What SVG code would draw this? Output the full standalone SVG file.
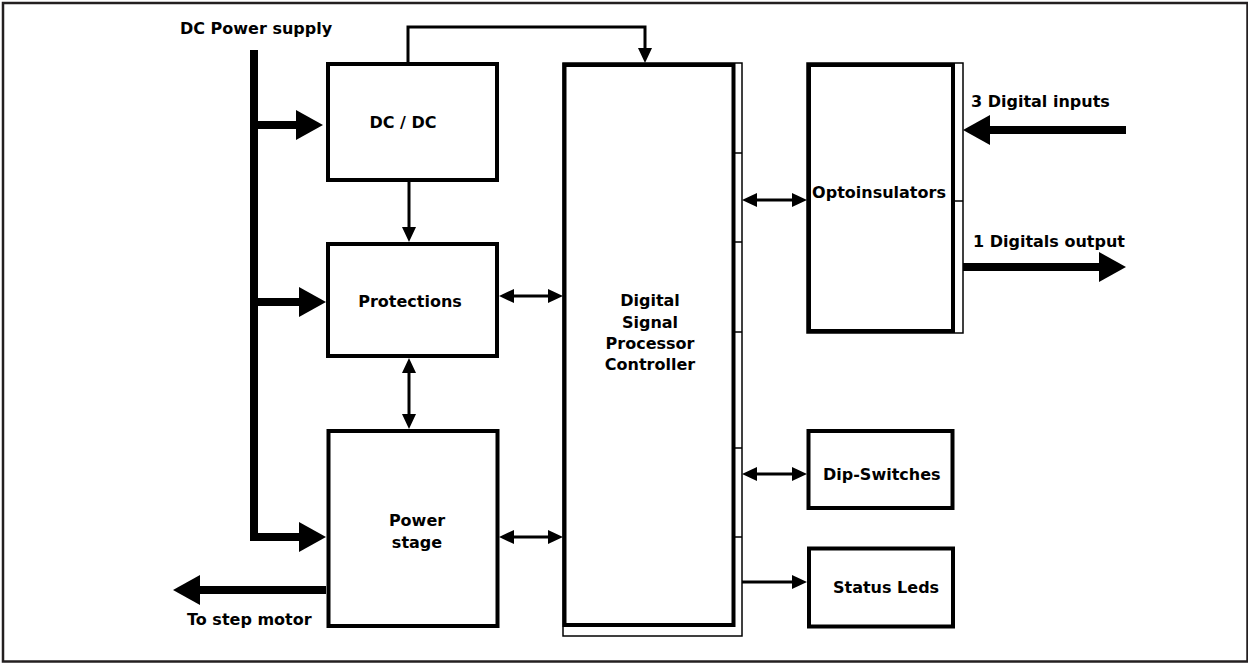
<svg xmlns="http://www.w3.org/2000/svg" width="1248" height="663" viewBox="0 0 1248 663">
<style>
.box{fill:#fff;stroke:#000;stroke-width:4}
.strip{fill:#fff;stroke:#000;stroke-width:1.5}
.tick{stroke:#000;stroke-width:1.5}
.thin{fill:none;stroke:#000;stroke-width:3}
.thick{fill:none;stroke:#000;stroke-width:8;stroke-linejoin:miter}
text{font-family:"DejaVu Sans","Verdana",sans-serif;font-weight:bold;font-size:16px;fill:#000}
.m{text-anchor:middle}
</style>
<defs>
<marker id="ah" markerUnits="userSpaceOnUse" markerWidth="16" markerHeight="16" viewBox="0 -8 16 16" refX="0" refY="0" orient="auto-start-reverse">
<path d="M0,-7 L15,0 L0,7 z" fill="#000"/>
</marker>
<marker id="big" markerUnits="userSpaceOnUse" markerWidth="28" markerHeight="32" viewBox="0 -16 28 32" refX="0" refY="0" orient="auto-start-reverse">
<path d="M0,-15 L27,0 L0,15 z" fill="#000"/>
</marker>
</defs>
<rect x="3" y="3" width="1244.5" height="658.5" fill="#fff" stroke="#231f20" stroke-width="2.5"/>

<g id="connectors">
<path class="thick" d="M254,50 V537 H299" marker-end="url(#big)"/>
<line class="thick" x1="254" y1="125" x2="296" y2="125" marker-end="url(#big)"/>
<line class="thick" x1="254" y1="302" x2="299" y2="302" marker-end="url(#big)"/>
<line class="thick" x1="326" y1="590" x2="200" y2="590" marker-end="url(#big)"/>
<line class="thick" x1="1126" y1="130" x2="990" y2="130" marker-end="url(#big)"/>
<line class="thick" x1="963" y1="267" x2="1099" y2="267" marker-end="url(#big)"/>
<line class="thin" x1="409" y1="182" x2="409" y2="227" marker-end="url(#ah)"/>
<path class="thin" d="M408,62 V27 H645 V48" marker-end="url(#ah)"/>
<line class="thin" x1="409" y1="373" x2="409" y2="414" marker-start="url(#ah)" marker-end="url(#ah)"/>
<line class="thin" x1="514" y1="296" x2="548" y2="296" marker-start="url(#ah)" marker-end="url(#ah)"/>
<line class="thin" x1="514" y1="537" x2="548" y2="537" marker-start="url(#ah)" marker-end="url(#ah)"/>
<line class="thin" x1="757" y1="200" x2="792" y2="200" marker-start="url(#ah)" marker-end="url(#ah)"/>
<line class="thin" x1="757" y1="474" x2="792" y2="474" marker-start="url(#ah)" marker-end="url(#ah)"/>
<line class="thin" x1="742" y1="582" x2="792" y2="582" marker-end="url(#ah)"/>
</g>

<text x="180" y="34">DC Power supply</text>
<text x="187" y="625">To step motor</text>
<text x="971" y="107">3 Digital inputs</text>
<text x="973" y="247">1 Digitals output</text>

<g id="dcdc">
<rect class="box" x="328" y="64" width="169" height="116"/>
<text class="m" x="403" y="128">DC / DC</text>
</g>
<g id="protections">
<rect class="box" x="328" y="244" width="169" height="112"/>
<text class="m" x="410" y="307">Protections</text>
</g>
<g id="powerstage">
<rect class="box" x="328.5" y="431" width="169" height="195"/>
<text class="m" x="417" y="526">Power</text>
<text class="m" x="417" y="548">stage</text>
</g>
<g id="dsp">
<rect class="strip" x="563" y="63" width="179" height="573"/>
<rect class="box" x="564.5" y="65" width="169" height="560"/>
<line class="tick" x1="735" y1="153" x2="742" y2="153"/>
<line class="tick" x1="735" y1="242" x2="742" y2="242"/>
<line class="tick" x1="735" y1="332" x2="742" y2="332"/>
<line class="tick" x1="735" y1="448" x2="742" y2="448"/>
<line class="tick" x1="735" y1="537" x2="742" y2="537"/>
<text class="m" x="650" y="306">Digital</text>
<text class="m" x="650" y="327.5">Signal</text>
<text class="m" x="650" y="349">Processor</text>
<text class="m" x="650" y="370">Controller</text>
</g>
<g id="opto">
<rect class="strip" x="807" y="63" width="156" height="270"/>
<rect class="box" x="809" y="65" width="144" height="266"/>
<line class="tick" x1="955" y1="201" x2="963" y2="201"/>
<text class="m" x="879" y="198">Optoinsulators</text>
</g>
<g id="dip">
<rect class="box" x="808.5" y="431" width="144" height="77"/>
<text x="823" y="480">Dip-Switches</text>
</g>
<g id="status">
<rect class="box" x="809" y="548.5" width="144" height="78"/>
<text x="833" y="593">Status Leds</text>
</g>
</svg>
